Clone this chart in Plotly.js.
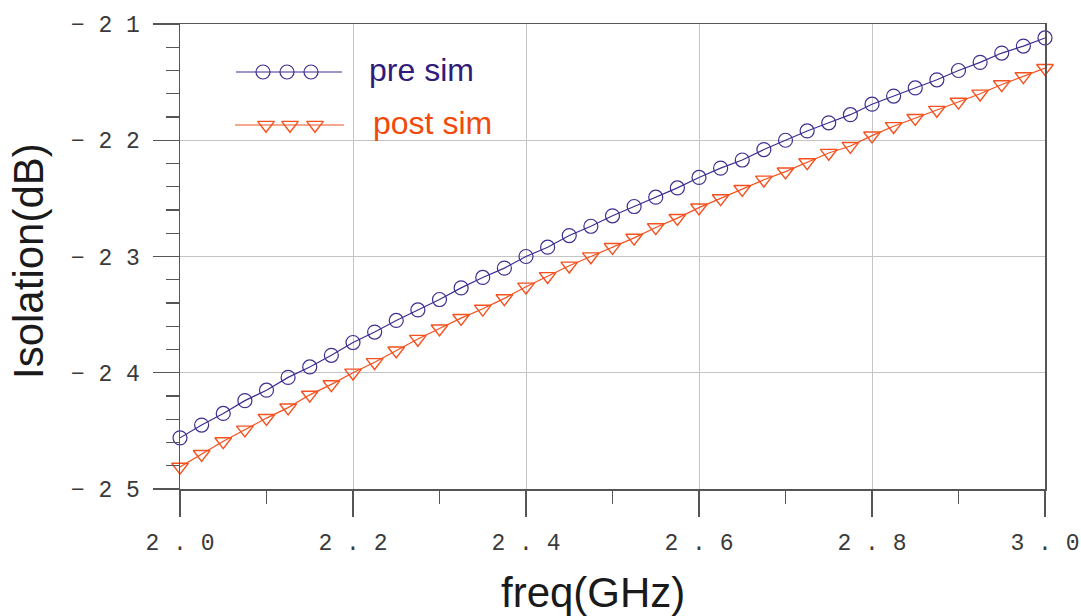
<!DOCTYPE html>
<html>
<head>
<meta charset="utf-8">
<script src="https://cdn.plot.ly/plotly-3.0.1.min.js"></script>
<style>
  html, body { margin: 0; padding: 0; background: #ffffff; }
  #chart { width: 1081px; height: 616px; }
</style>
</head>
<body>
<div id="chart"></div>
<script>
// Frequency sweep (GHz)
const freqGHz = [
  2.000, 2.025, 2.050, 2.075, 2.100, 2.125, 2.150, 2.175, 2.200, 2.225,
  2.250, 2.275, 2.300, 2.325, 2.350, 2.375, 2.400, 2.425, 2.450, 2.475,
  2.500, 2.525, 2.550, 2.575, 2.600, 2.625, 2.650, 2.675, 2.700, 2.725,
  2.750, 2.775, 2.800, 2.825, 2.850, 2.875, 2.900, 2.925, 2.950, 2.975,
  3.000
];

// Isolation before layout extraction (dB)
const preSim = [
  -24.56, -24.45, -24.35, -24.24, -24.15, -24.04, -23.95, -23.85, -23.74, -23.65,
  -23.55, -23.46, -23.37, -23.27, -23.18, -23.10, -23.00, -22.92, -22.82, -22.74,
  -22.65, -22.57, -22.49, -22.41, -22.32, -22.24, -22.17, -22.08, -22.00, -21.92,
  -21.85, -21.78, -21.69, -21.62, -21.55, -21.48, -21.40, -21.33, -21.25, -21.19,
  -21.12
];

// Isolation after layout extraction (dB)
const postSim = [
  -24.81, -24.70, -24.59, -24.49, -24.39, -24.30, -24.19, -24.10, -24.00, -23.91,
  -23.81, -23.71, -23.62, -23.53, -23.45, -23.36, -23.26, -23.17, -23.08, -23.00,
  -22.92, -22.84, -22.75, -22.67, -22.58, -22.50, -22.42, -22.34, -22.27, -22.19,
  -22.11, -22.05, -21.96, -21.88, -21.81, -21.74, -21.67, -21.60, -21.52, -21.45,
  -21.38
];

const seriesNames = ["pre sim", "post sim"];

const xTickVals = [2.0, 2.2, 2.4, 2.6, 2.8, 3.0];
const xTickText = ["2 . 0", "2 . 2", "2 . 4", "2 . 6", "2 . 8", "3 . 0"];
const yTickVals = [-25, -24, -23, -22, -21];
const yTickText = ["\u2212 2 5", "\u2212 2 4", "\u2212 2 3", "\u2212 2 2", "\u2212 2 1"];

// ---- page geometry ----
const W = 1081, H = 616;
const M = { l: 180, r: 36, t: 24, b: 127 };
const plotW = W - M.l - M.r;
const plotH = H - M.t - M.b;
// pixel -> fraction of the plotting area (used for the hand-built legend)
const fx = px => (px - M.l) / plotW;
const fy = py => 1 - (py - M.t) / plotH;

const preColor = "#3b2f8f";
const postColor = "#f4511e";
const tickFont = { family: "Liberation Mono, DejaVu Sans Mono, monospace", size: 23, color: "#3a3a3a" };

const preStyle = {
  mode: "lines+markers",
  line: { color: preColor, width: 1.2 },
  marker: { symbol: "circle-open", size: 14, color: preColor, line: { width: 1.2, color: preColor } },
  cliponaxis: false
};
const postStyle = {
  mode: "lines+markers",
  line: { color: postColor, width: 1.2 },
  marker: { symbol: "triangle-down-open", size: 14.5, color: postColor, line: { width: 1.4, color: postColor } },
  cliponaxis: false
};

const traces = [
  Object.assign({ x: freqGHz, y: preSim, name: seriesNames[0], showlegend: false, hoverinfo: "x+y" }, preStyle),
  Object.assign({ x: freqGHz, y: postSim, name: seriesNames[1], showlegend: false, hoverinfo: "x+y" }, postStyle)
];

// Legend keys: a short line with three markers, drawn on an overlay axis
function legendKey(style, x0, x1, y, marks) {
  return [
    { x: [fx(x0), fx(x1)], y: [fy(y), fy(y)], xaxis: "x2", yaxis: "y2", mode: "lines",
      line: style.line, hoverinfo: "skip", showlegend: false, cliponaxis: false },
    { x: marks.map(fx), y: marks.map(() => fy(y)), xaxis: "x2", yaxis: "y2", mode: "markers",
      marker: style.marker, hoverinfo: "skip", showlegend: false, cliponaxis: false }
  ];
}
traces.push(...legendKey(preStyle, 236, 342, 72, [263, 287, 311]));
traces.push(...legendKey(postStyle, 235, 344, 125, [266, 290, 315]));

const axisLine = "#555555";

const layout = {
  width: W, height: H,
  autosize: false,
  margin: M,
  paper_bgcolor: "#ffffff",
  plot_bgcolor: "#ffffff",
  showlegend: false,
  xaxis: {
    range: [2.0, 3.0],
    tickmode: "array", tickvals: xTickVals, ticktext: xTickText,
    tickfont: tickFont,
    ticks: "outside", ticklen: 26, tickwidth: 1.3, tickcolor: "#555555",
    ticklabelstandoff: 6,
    minor: { dtick: 0.1, tick0: 2.0, ticks: "outside", ticklen: 13, tickwidth: 1.3, tickcolor: "#555555", showgrid: false },
    showgrid: true, gridcolor: "#c4c4c4", gridwidth: 1,
    zeroline: false,
    showline: true, linecolor: axisLine, linewidth: 1.5, mirror: true,
    fixedrange: true
  },
  yaxis: {
    range: [-25, -21],
    tickmode: "array", tickvals: yTickVals, ticktext: yTickText,
    tickfont: tickFont,
    ticks: "outside", ticklen: 26, tickwidth: 1.3, tickcolor: "#555555",
    ticklabelstandoff: 8,
    minor: { dtick: 0.2, tick0: -25, ticks: "outside", ticklen: 13, tickwidth: 1.3, tickcolor: "#555555", showgrid: false },
    showgrid: true, gridcolor: "#c4c4c4", gridwidth: 1,
    zeroline: false,
    showline: true, linecolor: axisLine, linewidth: 1.5, mirror: true,
    fixedrange: true
  },
  xaxis2: { overlaying: "x", range: [0, 1], visible: false, fixedrange: true },
  yaxis2: { overlaying: "y", range: [0, 1], visible: false, fixedrange: true },
  annotations: [
    { text: "freq(GHz)", xref: "paper", yref: "paper", x: fx(593), y: fy(592),
      xanchor: "center", yanchor: "middle", showarrow: false,
      font: { family: "Liberation Sans, Arial, sans-serif", size: 42, color: "#1a1a1a" } },
    { text: "Isolation(dB)", xref: "paper", yref: "paper", x: fx(28), y: fy(261),
      xanchor: "center", yanchor: "middle", textangle: -90, showarrow: false,
      font: { family: "Liberation Sans, Arial, sans-serif", size: 42, color: "#1a1a1a" } },
    { text: seriesNames[0], xref: "paper", yref: "paper", x: fx(367), y: fy(70),
      xanchor: "left", yanchor: "middle", showarrow: false,
      font: { family: "Liberation Sans, Arial, sans-serif", size: 32, color: "#2f1b7a" } },
    { text: seriesNames[1], xref: "paper", yref: "paper", x: fx(371), y: fy(123),
      xanchor: "left", yanchor: "middle", showarrow: false,
      font: { family: "Liberation Sans, Arial, sans-serif", size: 32, color: "#f0490b" } }
  ]
};

Plotly.newPlot("chart", traces, layout, { staticPlot: true, displayModeBar: false });
</script>
</body>
</html>
